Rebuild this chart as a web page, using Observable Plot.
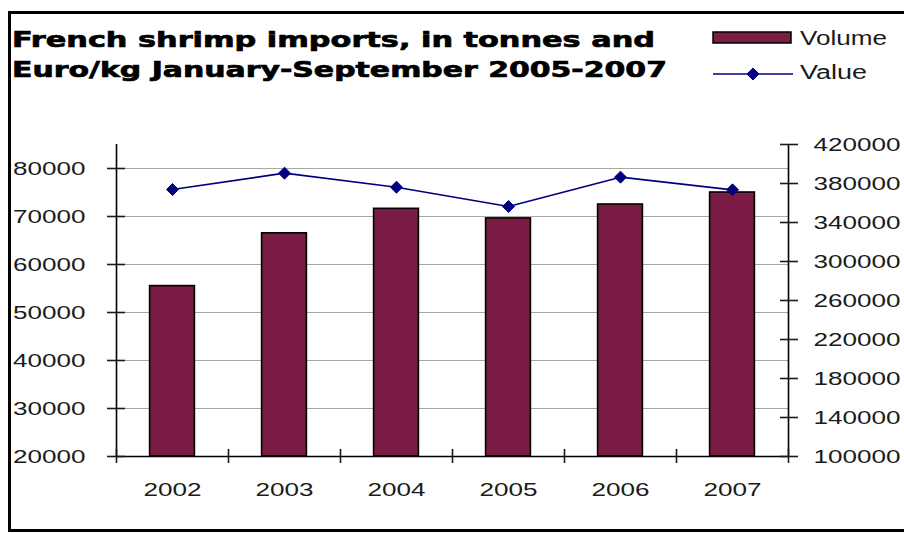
<!DOCTYPE html>
<html>
<head>
<meta charset="utf-8">
<script src="https://cdn.jsdelivr.net/npm/d3@7"></script>
<script src="https://cdn.jsdelivr.net/npm/@observablehq/plot@0.6"></script>
<style>
  html, body { margin: 0; padding: 0; background: #fff; }
  #page { position: relative; width: 904px; height: 533px; overflow: hidden; background: #fff; }
  #frame { position: absolute; left: 8px; top: 11px; width: 930px; height: 521px; box-sizing: border-box; border: 3px solid #000; }
  #head { position: absolute; left: 0; top: 0; }
  #chart { position: absolute; left: 0; top: 100px; }
</style>
</head>
<body>
<div id="page">
  <div id="frame"></div>
  <svg id="head" width="904" height="100" xmlns="http://www.w3.org/2000/svg"></svg>
  <div id="chart"></div>
</div>
<script>
// ---- data ----
const years = [2002, 2003, 2004, 2005, 2006, 2007];
const volume = [55500, 66500, 71600, 69600, 72500, 75000];
const value = [373800, 390600, 376200, 356400, 386500, 373500];
const leftTicks = [20000, 30000, 40000, 50000, 60000, 70000, 80000];
const rightTicks = [100000, 140000, 180000, 220000, 260000, 300000, 340000, 380000, 420000];
const titleLines = ["French shrimp imports, in tonnes and", "Euro/kg January-September 2005-2007"];
const seriesNames = ["Volume", "Value"];

// ---- dual-axis mapping (right axis onto left scale) ----
const leftDomain = [20000, 85000];
const rightDomain = [100000, 420000];
const toLeft = v => leftDomain[0] + (v - rightDomain[0]) * (leftDomain[1] - leftDomain[0]) / (rightDomain[1] - rightDomain[0]);
const fromLeft = v => Math.round(rightDomain[0] + (v - leftDomain[0]) * (rightDomain[1] - rightDomain[0]) / (leftDomain[1] - leftDomain[0]));

const rows = years.map((y, i) => ({year: y, volume: volume[i], value: value[i]}));
const bounds = d3.range(years[0] - 0.5, years[years.length - 1] + 1, 1);
const barHalf = 0.2;
const maroon = "#7b1c44";
const navy = "#000080";
const font = "Liberation Sans, Arial, sans-serif";

const chart = Plot.plot({
  width: 904,
  height: 420,
  marginTop: 44,
  marginBottom: 64,
  marginLeft: 116,
  marginRight: 116,
  style: {fontFamily: font, fontSize: "19px", color: "#1a1a1a", background: "transparent"},
  x: {type: "linear", domain: [bounds[0], bounds[bounds.length - 1]], label: null},
  y: {domain: leftDomain, label: null},
  marks: [
    Plot.ruleY(leftTicks.filter(d => d > leftDomain[0]), {stroke: "#a8a8a8", strokeWidth: 1.2}),
    Plot.rectY(rows, {x1: d => d.year - barHalf, x2: d => d.year + barHalf, y1: leftDomain[0], y2: "volume", fill: maroon, stroke: "#000", strokeWidth: 1.6}),
    Plot.ruleY([leftDomain[0]], {stroke: "#000", strokeWidth: 1.6}),
    Plot.ruleX([bounds[0], bounds[bounds.length - 1]], {stroke: "#000", strokeWidth: 1.6}),
    Plot.line(rows, {x: "year", y: d => toLeft(d.value), stroke: navy, strokeWidth: 1.6}),
    Plot.dot(rows, {x: "year", y: d => toLeft(d.value), symbol: "diamond2", r: 5.4, fill: navy, stroke: navy, strokeWidth: 1}),
    // left axis
    Plot.axisY(leftTicks, {anchor: "left", label: null, tickSize: 18, dx: 9, strokeWidth: 1.6, tickFormat: () => ""}),
    Plot.axisY(leftTicks, {anchor: "left", label: null, tickSize: 0, tickPadding: 31, tickFormat: d => String(d)}),
    // right axis
    Plot.axisY(rightTicks.map(toLeft), {anchor: "right", label: null, tickSize: 18, dx: -9, strokeWidth: 1.6, tickFormat: () => ""}),
    Plot.axisY(rightTicks.map(toLeft), {anchor: "right", label: null, tickSize: 0, tickPadding: 25, tickFormat: d => String(fromLeft(d))}),
    // x axis
    Plot.axisX(bounds, {anchor: "bottom", label: null, tickSize: 14, dy: -7, strokeWidth: 1.6, tickFormat: () => ""}),
    Plot.axisX(years, {anchor: "bottom", label: null, tickSize: 0, tickPadding: 26, tickFormat: d => String(d)})
  ]
});
// widen tick labels to match the stretched look of the original
chart.querySelectorAll("text").forEach(t => {
  const s = t.textContent;
  if (s && s.length) {
    t.setAttribute("textLength", (s.length * 14.5).toFixed(1));
    t.setAttribute("lengthAdjust", "spacingAndGlyphs");
  }
});
document.getElementById("chart").appendChild(chart);

// ---- header: title + legend ----
const head = d3.select("#head");
const titleLen = [643, 655];
titleLines.forEach((line, i) => {
  head.append("text")
    .attr("x", 12).attr("y", 47 + i * 30)
    .attr("font-family", "DejaVu Sans, sans-serif")
    .attr("font-weight", "bold")
    .attr("font-size", 22)
    .attr("textLength", titleLen[i])
    .attr("lengthAdjust", "spacingAndGlyphs")
    .attr("fill", "#000")
    .attr("stroke", "#000")
    .attr("stroke-width", 0.7)
    .text(line);
});
head.append("rect").attr("x", 713).attr("y", 32).attr("width", 78).attr("height", 11)
  .attr("fill", maroon).attr("stroke", "#000").attr("stroke-width", 1.5);
head.append("line").attr("x1", 713).attr("x2", 793).attr("y1", 74).attr("y2", 74)
  .attr("stroke", navy).attr("stroke-width", 1.6);
head.append("path").attr("d", d3.symbol(d3.symbolDiamond2, 92)()).attr("transform", "translate(753,74)")
  .attr("fill", navy).attr("stroke", navy);
const legLen = [87, 67];
seriesNames.forEach((name, i) => {
  head.append("text")
    .attr("x", 800).attr("y", 45 + i * 34)
    .attr("font-family", font)
    .attr("font-size", 20)
    .attr("textLength", legLen[i])
    .attr("lengthAdjust", "spacingAndGlyphs")
    .attr("fill", "#1a1a1a")
    .text(name);
});
</script>
</body>
</html>
